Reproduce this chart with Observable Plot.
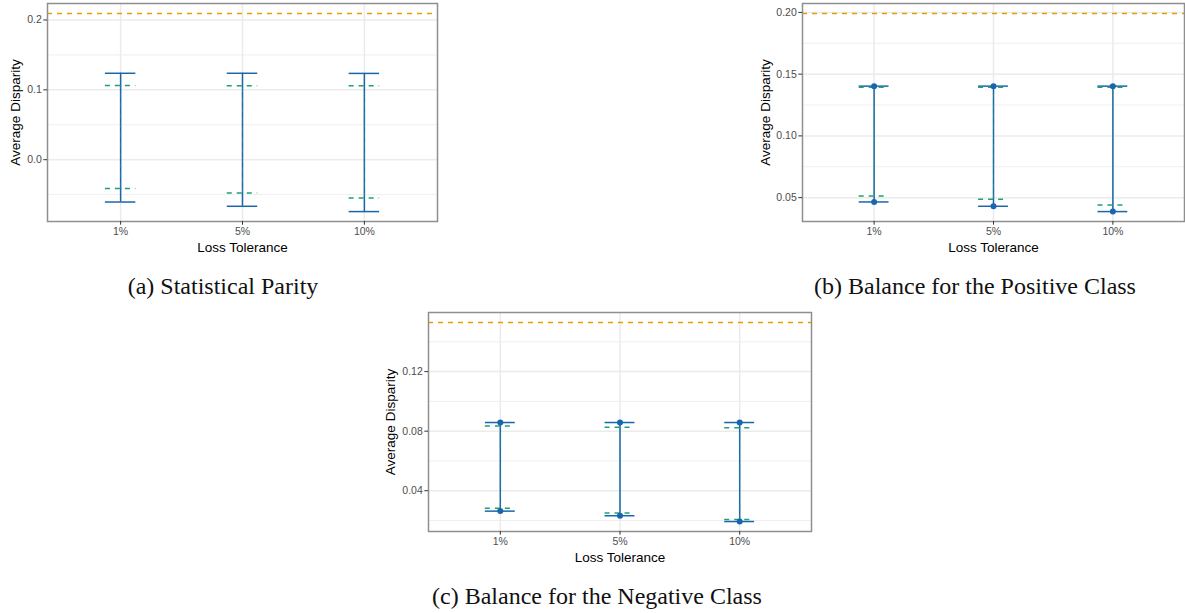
<!DOCTYPE html>
<html>
<head>
<meta charset="utf-8">
<script src="https://cdn.jsdelivr.net/npm/d3@7"></script>
<script src="https://cdn.jsdelivr.net/npm/@observablehq/plot@0.6"></script>
<style>
  html, body { margin: 0; padding: 0; background: #fff; }
  #wrap { position: relative; width: 1185px; height: 613px; background: #fff; overflow: hidden; }
  .panel { position: absolute; }
  .cap { position: absolute; font-family: "Liberation Serif", "Times New Roman", serif; font-size: 24px; line-height: 24px; color: #111; white-space: nowrap; transform: translateX(-50%); }
</style>
</head>
<body>
<div id="wrap"></div>
<script>
// ---- Data ----
const categories = ["1%", "5%", "10%"];
const xTitle = "Loss Tolerance";
const yTitle = "Average Disparity";

// (a) Statistical Parity
const aTitle = "(a) Statistical Parity";
const aBlueUpper = [0.1237, 0.1237, 0.1235];
const aBlueLower = [-0.0606, -0.0667, -0.0743];
const aGreenUpper = [0.1061, 0.1057, 0.1057];
const aGreenLower = [-0.0414, -0.0476, -0.0548];
const aReference = 0.2094;
const aTicks = [0, 0.1, 0.2];
const aMinorTicks = [-0.05, 0.05, 0.15];

// (b) Balance for the Positive Class
const bTitle = "(b) Balance for the Positive Class";
const bBlueUpper = [0.1403, 0.1403, 0.1403];
const bBlueLower = [0.0465, 0.0430, 0.0387];
const bGreenUpper = [0.1395, 0.1395, 0.1395];
const bGreenLower = [0.0513, 0.0486, 0.0440];
const bReference = 0.1992;
const bTicks = [0.05, 0.10, 0.15, 0.20];
const bMinorTicks = [0.075, 0.125, 0.175];

// (c) Balance for the Negative Class
const cTitle = "(c) Balance for the Negative Class";
const cBlueUpper = [0.0858, 0.0858, 0.0858];
const cBlueLower = [0.0263, 0.0232, 0.0193];
const cGreenUpper = [0.0834, 0.0827, 0.0823];
const cGreenLower = [0.0283, 0.0250, 0.0206];
const cReference = 0.153;
const cTicks = [0.04, 0.08, 0.12];
const cMinorTicks = [0.02, 0.06, 0.10, 0.14];

// ---- Styling ----
const BLUE = "#1a66ad", GREEN = "#1fa070", ORANGE = "#E69F00";
const GRID = "#ebebeb";
const FONT = "'Liberation Sans', Arial, Helvetica, sans-serif";

function makePanel(o) {
  const rows = categories.map((c, i) => ({
    cat: c, bu: o.bu[i], bl: o.bl[i], gu: o.gu[i], gl: o.gl[i]
  }));
  const all = [...o.bu, ...o.bl, ...o.gu, ...o.gl, o.ref];
  const [lo, hi] = d3.extent(all);
  const pad = (hi - lo) * 0.05;
  const marks = [
    Plot.ruleY(o.minor, {stroke: GRID, strokeWidth: 0.8}),
    Plot.ruleY(o.ticks, {stroke: GRID, strokeWidth: 1.5}),
    Plot.ruleX(categories, {x: d => d, stroke: GRID, strokeWidth: 1.5}),
    Plot.ruleY([o.ref], {y: d => d, stroke: ORANGE, strokeWidth: 1.5, strokeDasharray: "5,5"}),
    // blue solid error bars
    Plot.ruleX(rows, {x: "cat", y1: "bl", y2: "bu", stroke: BLUE, strokeWidth: 1.5}),
    Plot.tickY(rows, {x: "cat", y: "bu", stroke: BLUE, strokeWidth: 1.5}),
    Plot.tickY(rows, {x: "cat", y: "bl", stroke: BLUE, strokeWidth: 1.5}),
    // green dashed error bars
    Plot.ruleX(rows, {x: "cat", y1: "gl", y2: "gu", stroke: GREEN, strokeOpacity: 0.5, strokeWidth: 1, strokeDasharray: "5,5"}),
    Plot.tickY(rows, {x: "cat", y: "gu", stroke: GREEN, strokeWidth: 1.5, strokeDasharray: "5,5"}),
    Plot.tickY(rows, {x: "cat", y: "gl", stroke: GREEN, strokeWidth: 1.5, strokeDasharray: "5,5"}),
  ];
  if (o.points) {
    marks.push(Plot.dot(rows, {x: "cat", y: "bu", r: 3, fill: BLUE, stroke: null}));
    marks.push(Plot.dot(rows, {x: "cat", y: "bl", r: 3, fill: BLUE, stroke: null}));
  }
  marks.push(
    Plot.frame({stroke: "#8f8f8f", strokeWidth: 1.5}),
    Plot.axisY({ticks: o.ticks, tickFormat: d3.format(o.fmt), tickSize: 3.7, tickPadding: 2,
      fontSize: 10.5, stroke: "#333", fill: "#4d4d4d", label: null}),
    Plot.axisX({tickSize: 3.7, tickPadding: 2, fontSize: 10.5, stroke: "#333", fill: "#4d4d4d", label: null}),
    Plot.text([yTitle], {text: d => d, frameAnchor: "left", textAnchor: "middle", lineAnchor: "middle",
      rotate: -90, dx: o.ytdx, fontSize: 13.5, fill: "#000"}),
    Plot.text([xTitle], {text: d => d, frameAnchor: "bottom", textAnchor: "middle", lineAnchor: "middle",
      dy: 26, fontSize: 13.5, fill: "#000"})
  );
  const svg = Plot.plot({
    width: o.width, height: o.height,
    marginLeft: o.ml, marginRight: o.mr, marginTop: o.mt, marginBottom: o.mb,
    style: {fontFamily: FONT, background: "transparent", overflow: "visible"},
    x: {type: "band", domain: categories, paddingInner: 0.75, paddingOuter: 0.475, round: false},
    y: {domain: [lo - pad, hi + pad]},
    marks
  });
  svg.classList.add("panel");
  svg.style.left = o.left + "px";
  svg.style.top = o.top + "px";
  return svg;
}

const wrap = document.getElementById("wrap");
wrap.appendChild(makePanel({
  bu: aBlueUpper, bl: aBlueLower, gu: aGreenUpper, gl: aGreenLower, ref: aReference,
  ticks: aTicks, minor: aMinorTicks, fmt: ".1f", points: false,
  left: 0, top: 0, width: 440, height: 258, ml: 47, mr: 3, mt: 3, mb: 37, ytdx: -32
}));
wrap.appendChild(makePanel({
  bu: bBlueUpper, bl: bBlueLower, gu: bGreenUpper, gl: bGreenLower, ref: bReference,
  ticks: bTicks, minor: bMinorTicks, fmt: ".2f", points: true,
  left: 720, top: 0, width: 465, height: 258, ml: 82, mr: 1, mt: 3, mb: 37, ytdx: -37
}));
wrap.appendChild(makePanel({
  bu: cBlueUpper, bl: cBlueLower, gu: cGreenUpper, gl: cGreenLower, ref: cReference,
  ticks: cTicks, minor: cMinorTicks, fmt: ".2f", points: true,
  left: 360, top: 300, width: 453, height: 268, ml: 68, mr: 2, mt: 12, mb: 37, ytdx: -38
}));

function addCaption(text, cx, top) {
  const d = document.createElement("div");
  d.className = "cap";
  d.textContent = text;
  d.style.left = cx + "px";
  d.style.top = top + "px";
  wrap.appendChild(d);
}
addCaption(aTitle, 223, 274);
addCaption(bTitle, 975, 274);
addCaption(cTitle, 597, 584);
</script>
</body>
</html>
